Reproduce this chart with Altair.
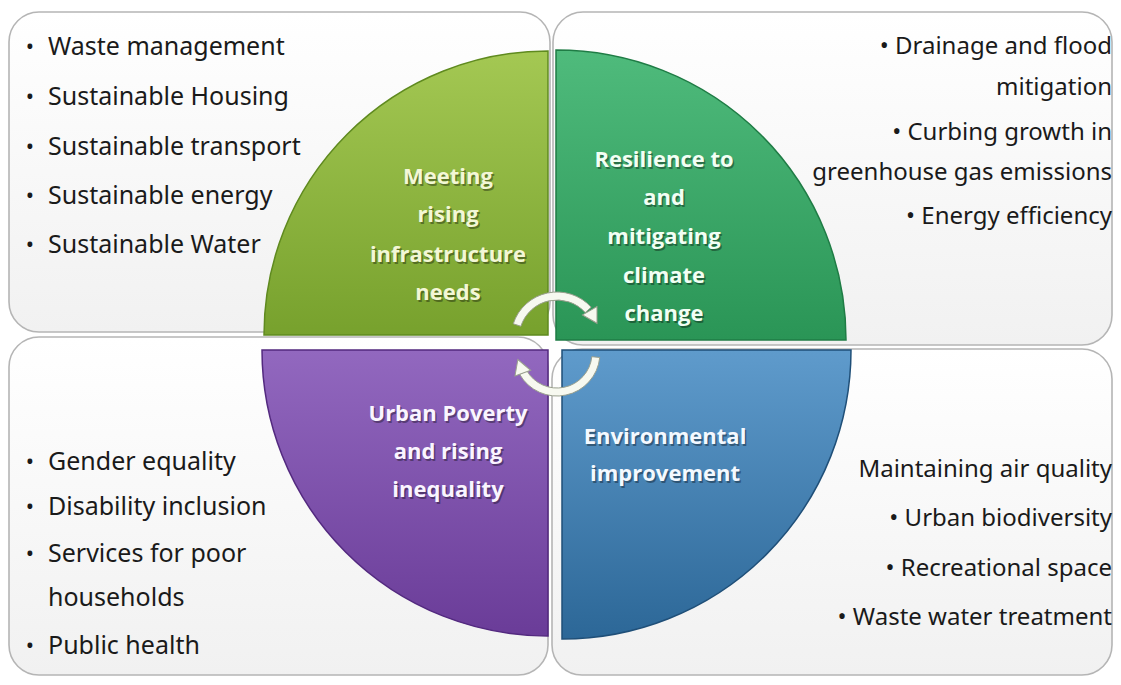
import altair as alt
import pandas as pd

# ---------------- data ----------------
# rounded background boxes (pixel-like coordinates of the diagram)
box_id = ["tl", "tr", "bl", "br"]
box_x0 = [9, 553, 9, 552]
box_x1 = [550, 1112, 548, 1112]
box_y0 = [12, 12, 337, 349]
box_y1 = [332, 345, 675, 675]

# quadrants of the central circle
q_name = ["infra", "climate", "poverty", "environment"]
q_cx = [548, 556, 548, 562]
q_cy = [335, 340, 350, 350]
q_r = [284, 290, 286, 289]
q_deg0 = [270, 0, 180, 90]
q_deg1 = [360, 90, 270, 180]
q_top = ["#a4c853", "#4fbb7c", "#9268bf", "#5f9bcc"]
q_bot = ["#77a12d", "#2a9556", "#6a3c98", "#2c6797"]
q_edge = ["#5f8a1f", "#1f7c45", "#53297f", "#1f4f78"]

# quadrant titles
lab_text = ["Meeting", "rising", "infrastructure", "needs",
            "Resilience to", "and", "mitigating", "climate", "change",
            "Urban Poverty", "and rising", "inequality",
            "Environmental", "improvement"]
lab_x = [448, 448, 448, 448,
         664, 664, 664, 664, 664,
         448, 448, 448,
         665, 665]
lab_y = [177, 215, 255, 293,
         160, 198, 237, 276, 314,
         414, 452, 490,
         437, 474]
lab_col = ["#f3f7d6"] * 4 + ["#f2fff4"] * 5 + ["#faf5ff"] * 3 + ["#f4f9ff"] * 2

# bullet lists (left aligned)
left_text = ["Waste management", "Sustainable Housing", "Sustainable transport",
             "Sustainable energy", "Sustainable Water",
             "Gender equality", "Disability inclusion", "Services for poor",
             "households", "Public health"]
left_y = [47, 97, 147, 196, 245, 462, 507, 554, 598, 646]
left_bullet = [1, 1, 1, 1, 1, 1, 1, 1, 0, 1]

# bullet lists (right aligned)
right_text = ["• Drainage and flood", "mitigation", "• Curbing growth in",
              "greenhouse gas emissions", "• Energy efficiency",
              "Maintaining air quality", "• Urban biodiversity",
              "• Recreational space", "• Waste water treatment"]
right_y = [47, 88, 133, 173, 217, 470, 519, 569, 618]

# circular arrows in the middle (top arrow, bottom arrow)
arr_cx = [557, 557]
arr_cy = [338, 353]
arr_out = [46, 43]
arr_in = [38, 35]
arr_deg0 = [288, 96]
arr_deg1 = [408, 240]
arr_head_deg = [60, 250]

# ---------------- helpers ----------------
XS = alt.Scale(domain=[8, 1113], nice=False, zero=False)
YS = alt.Scale(domain=[8, 677], nice=False, zero=False, reverse=True)


def X(f):
    return alt.X(f, type="quantitative", scale=XS, axis=None)


def Y(f):
    return alt.Y(f, type="quantitative", scale=YS, axis=None)


boxes = pd.DataFrame({"id": box_id, "x0": box_x0, "x1": box_x1, "y0": box_y0, "y1": box_y1})
box_layer = alt.Chart(boxes).mark_rect(
    cornerRadius=30,
    stroke="#b5b5b5",
    strokeWidth=1.6,
    color=alt.Gradient(gradient="linear", x1=0, y1=0, x2=0, y2=1,
                       stops=[alt.GradientStop(color="#ffffff", offset=0),
                              alt.GradientStop(color="#f1f1f1", offset=1)]),
).encode(x=X("x0"), x2="x1", y=Y("y0"), y2="y1")

layers = [box_layer]

for i in range(4):
    qd = pd.DataFrame({"name": [q_name[i]], "cx": [q_cx[i]], "cy": [q_cy[i]],
                       "r": [q_r[i]], "d0": [q_deg0[i]], "d1": [q_deg1[i]]})
    grad = alt.Gradient(gradient="linear", x1=0, y1=0, x2=0, y2=1,
                        stops=[alt.GradientStop(color=q_top[i], offset=0),
                               alt.GradientStop(color=q_bot[i], offset=1)])
    q = alt.Chart(qd).transform_calculate(
        t0="datum.d0*PI/180", t1="datum.d1*PI/180"
    ).mark_arc(color=grad, stroke=q_edge[i], strokeWidth=1.5).encode(
        x=X("cx"), y=Y("cy"),
        theta=alt.Theta("t0:Q", scale=None), theta2="t1:Q",
        radius=alt.Radius("r:Q", scale=None),
    )
    layers.append(q)

# circular arrows
arr = pd.DataFrame({"d0": arr_deg0, "d1": arr_deg1, "cx": arr_cx, "cy": arr_cy,
                    "ro": arr_out, "ri": arr_in, "a": arr_head_deg})
arrow_ring = alt.Chart(arr).transform_calculate(
    t0="datum.d0*PI/180", t1="datum.d1*PI/180"
).mark_arc(color="#f7f9f0", stroke="#9aa08e", strokeWidth=1).encode(
    x=X("cx"), y=Y("cy"),
    theta=alt.Theta("t0:Q", scale=None), theta2="t1:Q",
    radius=alt.Radius("ro:Q", scale=None), radius2="ri:Q",
)
arrow_head = alt.Chart(arr).transform_calculate(
    rm="(datum.ro + datum.ri)/2",
).transform_calculate(
    hx="datum.cx + datum.rm*sin(datum.a*PI/180)",
    hy="datum.cy - datum.rm*cos(datum.a*PI/180)",
    rot="(datum.a + 90) % 360",
).mark_point(shape="triangle-up", filled=True, color="#f7f9f0", stroke="#9aa08e",
             strokeWidth=1, opacity=1, size=280).encode(
    x=X("hx"), y=Y("hy"), angle=alt.Angle("rot:Q", scale=None)
)
layers += [arrow_ring, arrow_head]

# quadrant labels (shadow + text)
labs = pd.DataFrame({"text": lab_text, "x": lab_x, "y": lab_y, "col": lab_col})
lab_shadow = alt.Chart(labs).mark_text(
    font="Open Sans", fontSize=22, fontWeight="bold", color="#000000", opacity=0.35,
    dx=1.5, dy=1.5, baseline="middle", align="center"
).encode(x=X("x"), y=Y("y"), text="text:N")
lab_main = alt.Chart(labs).mark_text(
    font="Open Sans", fontSize=22, fontWeight="bold", baseline="middle", align="center"
).encode(x=X("x"), y=Y("y"), text="text:N", color=alt.Color("col:N", scale=None))
layers += [lab_shadow, lab_main]

# left lists
left = pd.DataFrame({"text": left_text, "y": left_y, "b": left_bullet})
left["tx"] = 48
left["bx"] = 30
left_t = alt.Chart(left).mark_text(
    font="Noto Sans", fontSize=25, color="#1a1a1a", align="left", baseline="middle"
).encode(x=X("tx"), y=Y("y"), text="text:N")
left_b = alt.Chart(left).transform_filter("datum.b == 1").mark_text(
    font="Noto Sans", fontSize=22, color="#1a1a1a", align="center", baseline="middle", text="•"
).encode(x=X("bx"), y=Y("y"))
layers += [left_t, left_b]

# right lists
right = pd.DataFrame({"text": right_text, "y": right_y})
right["tx"] = 1112
right_t = alt.Chart(right).mark_text(
    font="Noto Sans", fontSize=24, color="#1a1a1a", align="right", baseline="middle"
).encode(x=X("tx"), y=Y("y"), text="text:N")
layers.append(right_t)

chart = alt.layer(*layers).properties(
    width=1105, height=669, padding=0, autosize=alt.AutoSizeParams(type="none"),
    background="#ffffff",
).configure_view(stroke=None)

chart.save("out.html", embed_options={"renderer": "svg", "actions": False})
